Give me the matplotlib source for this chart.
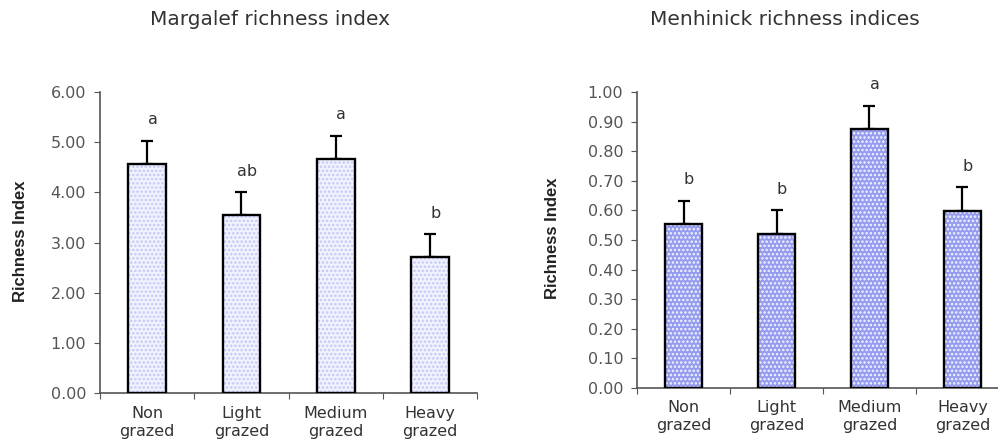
import numpy as np
import matplotlib.pyplot as plt

#%% data
groups = ["Non\ngrazed", "Light\ngrazed", "Medium\ngrazed", "Heavy\ngrazed"]

margalef = [4.56, 3.55, 4.66, 2.71]
margalef_se = [0.47, 0.46, 0.47, 0.46]
margalef_letters = ["a", "ab", "a", "b"]

menhinick = [0.554, 0.52, 0.874, 0.598]
menhinick_se = [0.079, 0.08, 0.08, 0.081]
menhinick_letters = ["b", "b", "a", "b"]

grey = "#555555"
wide = "DejaVu Sans"


def richness_panel(ax, vals, se, letters, ymax, ystep, face, hatch, hatchcolor):
    x = np.arange(len(vals)) + 0.5
    # fill + pattern first, then a black outline on top
    ax.bar(x, vals, width=0.4, color=face, hatch=hatch, edgecolor=hatchcolor, linewidth=0, zorder=2)
    ax.bar(x, vals, width=0.4, fill=False, edgecolor="black", linewidth=1.7, zorder=3)
    ax.errorbar(x, vals, yerr=[np.zeros(len(vals)), se], fmt="none", ecolor="black",
                elinewidth=1.6, capsize=4.5, capthick=1.6, zorder=1)
    for xi, v, e, lab in zip(x, vals, se, letters):
        ax.annotate(lab, (xi, v + e), xytext=(4, 15), textcoords="offset points",
                    ha="center", va="center", fontsize=11.5, color="#333333", family=wide)

    ax.set_xlim(0, len(vals))
    ax.set_ylim(0, ymax)
    ticks = np.arange(0, ymax + ystep / 2, ystep)
    ax.set_yticks(ticks)
    ax.set_yticklabels(["%.2f" % t for t in ticks])
    ax.set_xticks(np.arange(0, len(vals) + 1))
    ax.set_xticklabels([])
    ax.set_xticks(x, minor=True)
    ax.set_xticklabels(groups, minor=True, fontsize=11.5, family=wide, color="#333333",
                       linespacing=1.25)
    ax.tick_params(axis="x", which="minor", length=0, pad=9)
    ax.tick_params(axis="x", which="major", length=4, color=grey, direction="out")
    ax.tick_params(axis="y", length=4, color=grey, labelcolor=grey, labelsize=11.5, pad=6)
    for lab in ax.get_yticklabels():
        lab.set_family(wide)
    for s in ["top", "right"]:
        ax.spines[s].set_visible(False)
    for s in ["left", "bottom"]:
        ax.spines[s].set_color(grey)
        ax.spines[s].set_linewidth(1.2)


fig = plt.figure(figsize=(9.98, 4.41), dpi=100)
plt.rcParams["hatch.linewidth"] = 1.2

ax1 = fig.add_axes([0.1002, 0.1088, 0.3778, 0.6825])
richness_panel(ax1, margalef, margalef_se, margalef_letters, 6, 1,
               "#f1f2fe", "....", "#c3c8f6")

ax2 = fig.add_axes([0.6383, 0.1202, 0.3727, 0.6712])
richness_panel(ax2, menhinick, menhinick_se, menhinick_letters, 1.0, 0.1,
               "#959bee", "....", "#f4f5ff")

fig.text(0.2705, 0.955, "Margalef richness index", ha="center", va="center",
         fontsize=14.5, color="#333333", family=wide)
fig.text(0.7866, 0.955, "Menhinick richness indices", ha="center", va="center",
         fontsize=14.5, color="#333333", family=wide)
fig.text(0.0207, 0.4535, "Richness Index", rotation=90, ha="center", va="center",
         fontsize=12, fontweight="bold", color="#222222", family="Liberation Sans")
fig.text(0.554, 0.46, "Richness Index", rotation=90, ha="center", va="center",
         fontsize=12, fontweight="bold", color="#222222", family="Liberation Sans")

fig.savefig("out.png", dpi=100)
